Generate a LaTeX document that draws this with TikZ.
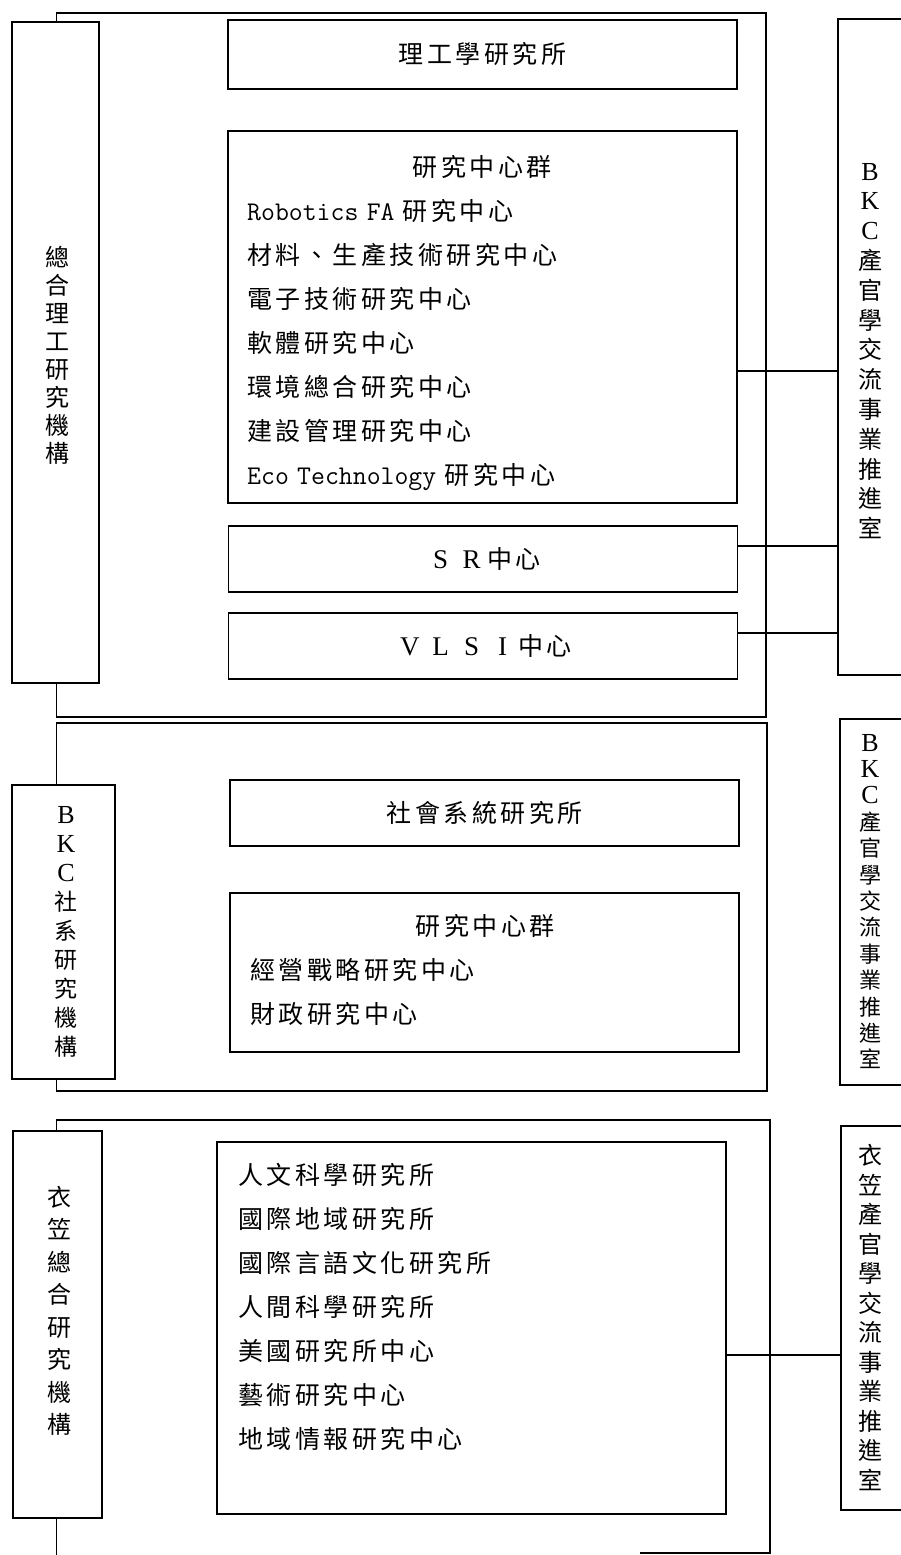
\documentclass[tikz,border=0pt]{standalone}
\usepackage{fontspec}
\setmainfont{Liberation Serif}
\newfontfamily\cjk[LetterSpace=14]{Noto Sans CJK TC}
\newfontfamily\latmono{Latin Modern Mono}

\newcommand{\linew}{1.3pt}
\newcommand{\unitn}{\node[draw, line width=\linew, inner sep=0pt, minimum width=509pt, font=\cjk\fontsize{25}{28}\selectfont]}
\newcommand{\grpn}{\node[draw, line width=\linew, inner sep=0pt, minimum width=509pt]}
\newcommand{\orgn}{\node[draw, line width=\linew, inner sep=0pt]}
\newcommand{\offn}{\node[draw, line width=\linew, inner sep=0pt, minimum width=140pt]}
\newcommand{\listn}{\node[anchor=west, inner sep=0pt, text width=470pt, align=left, font=\cjk\fontsize{25}{44}\selectfont]}
\newcommand{\vtxt}{\node[inner sep=0pt, align=center]}
\newcommand{\wideltr}[1]{\makebox[31pt]{\rmfamily\fontsize{27}{28}\selectfont #1}}
\newcommand{\ltr}[1]{{\rmfamily\fontsize{26}{28}\selectfont #1}}
\newcommand{\latn}[1]{{\latmono\fontsize{27}{44}\selectfont #1}}
\newcommand{\grphead}[1]{\makebox[470pt]{#1}}

\begin{document}
\begin{tikzpicture}[x=1pt, y=-1pt]
    \useasboundingbox (0,0) rectangle (901,1555);

    \coordinate (spine) at (56.5,0);
    \coordinate (f1ne) at (766,13);
    \coordinate (f1se) at (766,717);
    \coordinate (f2ne) at (767,723);
    \coordinate (f2se) at (767,1091);
    \coordinate (f3ne) at (770,1120);
    \coordinate (f3se) at (770,1553);
    \coordinate (f3s) at (640,1553);
    \coordinate (f3sw) at (56.5,1555);
    \coordinate (lk1) at (0,371);
    \coordinate (lk2) at (0,546);
    \coordinate (lk3) at (0,633);
    \coordinate (lk4) at (0,1355);

    % 總合理工研究機構
    \orgn[minimum width=87pt, minimum height=661pt] (org1) at (55.5,352.5) {};
    \vtxt[font=\cjk\fontsize{24}{28}\selectfont] (org1t) at (57,355.5)
        {總\\合\\理\\工\\研\\究\\機\\構};
    \unitn[minimum height=69pt] (inst1) at (482.5,54.5) {理工學研究所};
    \grpn[minimum height=372pt] (grp1) at (482.5,317) {};
    \listn (grp1l) at (247,323) {\grphead{研究中心群}\\
        \latn{Robotics FA} 研究中心\\
        材料、生產技術研究中心\\
        電子技術研究中心\\
        軟體研究中心\\
        環境總合研究中心\\
        建設管理研究中心\\
        \latn{Eco Technology} 研究中心};
    \unitn[minimum height=66pt] (sr) at (483,559) {\wideltr{S}\wideltr{R}中心};
    \unitn[minimum height=66pt] (vlsi) at (483,646) {\wideltr{V}\wideltr{L}\wideltr{S}\wideltr{I}中心};
    \offn[minimum height=656pt] (off1) at (908,347) {};
    \vtxt[font=\cjk\fontsize{24}{29.8}\selectfont] (off1t) at (870,351)
        {\ltr{B}\\\ltr{K}\\\ltr{C}\\產\\官\\學\\交\\流\\事\\業\\推\\進\\室};

    \draw[line width=\linew]
        (org1.north -| spine) |- (f1ne) -- (f1se) -| (org1.south -| spine);
    \draw[line width=\linew]
        (grp1.east |- lk1) -- (off1.west |- lk1)
        (sr.east |- lk2) -- (off1.west |- lk2)
        (vlsi.east |- lk3) -- (off1.west |- lk3);

    % BKC社系研究機構
    \orgn[minimum width=103pt, minimum height=294pt] (org2) at (63.5,932) {};
    \vtxt[font=\cjk\fontsize{23}{29}\selectfont] (org2t) at (66,932)
        {\ltr{B}\\\ltr{K}\\\ltr{C}\\社\\系\\研\\究\\機\\構};
    \unitn[minimum height=66pt] (inst2) at (484.5,813) {社會系統研究所};
    \grpn[minimum height=159pt] (grp2) at (484.5,972.5) {};
    \listn (grp2l) at (250,970) {\grphead{研究中心群}\\
        經營戰略研究中心\\
        財政研究中心};
    \offn[minimum height=366pt] (off2) at (910,902) {};
    \vtxt[font=\cjk\fontsize{22}{26.4}\selectfont] (off2t) at (870,901.5)
        {\ltr{B}\\\ltr{K}\\\ltr{C}\\產\\官\\學\\交\\流\\事\\業\\推\\進\\室};

    \draw[line width=\linew]
        (org2.north -| spine) |- (f2ne) -- (f2se) -| (org2.south -| spine);

    % 衣笠總合研究機構
    \orgn[minimum width=89pt, minimum height=387pt] (org3) at (57.5,1324.5) {};
    \vtxt[font=\cjk\fontsize{24}{32.5}\selectfont] (org3t) at (59,1311)
        {衣\\笠\\總\\合\\研\\究\\機\\構};
    \grpn[minimum height=372pt] (grp3) at (471.5,1328) {};
    \listn (grp3l) at (238,1307.5) {人文科學研究所\\
        國際地域研究所\\
        國際言語文化研究所\\
        人間科學研究所\\
        美國研究所中心\\
        藝術研究中心\\
        地域情報研究中心};
    \offn[minimum height=384pt] (off3) at (911,1318) {};
    \vtxt[font=\cjk\fontsize{24}{29.5}\selectfont] (off3t) at (870,1317.5)
        {衣\\笠\\產\\官\\學\\交\\流\\事\\業\\推\\進\\室};

    \draw[line width=\linew]
        (org3.north -| spine) |- (f3ne) -- (f3se) -- (f3s)
        (org3.south -| spine) -- (f3sw);
    \draw[line width=\linew]
        (grp3.east |- lk4) -- (off3.west |- lk4);

\end{tikzpicture}
\end{document}
